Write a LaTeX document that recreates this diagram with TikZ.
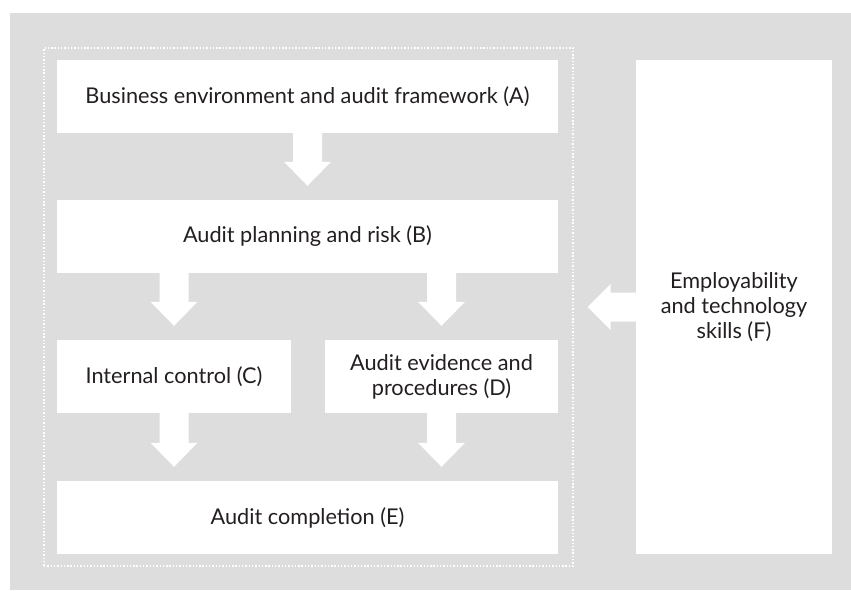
\documentclass[tikz,border=0pt]{standalone}
\usepackage{fontspec}
\setmainfont{Lato}
\usetikzlibrary{calc}
\definecolor{bggray}{RGB}{220,221,220}
\definecolor{txt}{RGB}{35,31,32}
\tikzset{
  box/.style={fill=white, draw=none, inner sep=0pt, align=center, text=txt,
    font=\fontsize{21.7}{24.8}\selectfont},
  framebox/.style={draw=white, line width=1.4pt, dash pattern=on 1.4pt off 1.9pt, inner sep=0pt},
  arr/.style={fill=white, draw=none}
}
\newcommand\dnarrow[3]{%
  \path let \p3=(#1.center), \p1=(#2.south), \p2=(#3.north) in
    [arr] (\x3-14.5pt,\y1) -- (\x3-14.5pt,\y2+38pt) -- (\x3-23.5pt,\y2+38pt) -- (\x3,\y2+14pt)
      -- (\x3+23.5pt,\y2+38pt) -- (\x3+14.5pt,\y2+38pt) -- (\x3+14.5pt,\y1) -- cycle;}
\begin{document}
\begin{tikzpicture}[x=1pt,y=1pt]
\useasboundingbox (0,0) rectangle (851,590);
\fill[bggray] (10,0) rectangle (851,577);
\node[framebox, minimum width=529, minimum height=518] (frame) at (308.5,283) {};
\node[box, minimum width=501, minimum height=73] (A) at (307.5,493.5) {Business environment and audit framework (A)};
\node[box, minimum width=501, minimum height=73] (B) at (307.5,353.5) {Audit planning and risk (B)};
\node[box, minimum width=234, minimum height=73] (C) at (174,213.5) {Internal control (C)};
\node[box, minimum width=233, minimum height=73] (D) at (441.5,213.5) {Audit evidence and\\procedures (D)};
\node[box, minimum width=501, minimum height=73] (E) at (307.5,72.5) {Audit completion (E)};
\node[box, minimum width=196, minimum height=494] (F) at (734,283) {Employability\\and technology\\skills (F)};
\dnarrow{A}{A}{B}
\dnarrow{C}{B}{C}
\dnarrow{D}{B}{D}
\dnarrow{C}{C}{E}
\dnarrow{D}{D}{E}
\path let \p1=(F.west), \p2=(frame.east), \p3=(F.center) in
  [arr] (\x1,\y3+14.5pt) -- (\x2+37pt,\y3+14.5pt) -- (\x2+37pt,\y3+23pt) -- (\x2+14pt,\y3)
    -- (\x2+37pt,\y3-23pt) -- (\x2+37pt,\y3-14.5pt) -- (\x1,\y3-14.5pt) -- cycle;
\end{tikzpicture}
\end{document}
